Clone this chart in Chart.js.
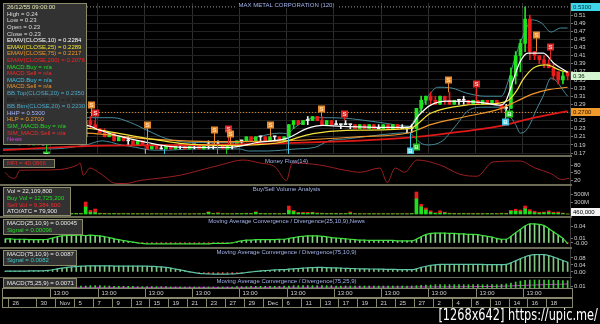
<!DOCTYPE html>
<html>
<head>
<meta charset="utf-8">
<title>MAX METAL CORPORATION (120)</title>
<script src="https://cdn.jsdelivr.net/npm/chart.js@4.4.1/dist/chart.umd.min.js"></script>
<style>
  html, body { margin: 0; padding: 0; background: #000; }
  #page { position: relative; width: 600px; height: 324px; overflow: hidden; background: #000; }
  #page canvas { position: absolute; left: 0; }
  .sep { position: absolute; left: 0; width: 572px; height: 2px; background: #6c6c56; }
  #stamp { position: absolute; right: 2px; top: 306px; color: #fff; font: 15px "Liberation Sans Narrow", "DejaVu Sans Condensed", sans-serif; white-space: nowrap; transform: scaleX(0.84); transform-origin: right top; }
</style>
</head>
<body>
<div id="page">
  <canvas id="main" width="600" height="155" style="top:0"></canvas>
  <div class="sep" style="top:155px"></div>
  <canvas id="mfi" width="600" height="27" style="top:157px"></canvas>
  <div class="sep" style="top:184px"></div>
  <canvas id="vol" width="600" height="30" style="top:186px"></canvas>
  <div class="sep" style="top:216px"></div>
  <canvas id="macd1" width="600" height="29" style="top:218px"></canvas>
  <div class="sep" style="top:247px"></div>
  <canvas id="macd2" width="600" height="28" style="top:249px"></canvas>
  <div class="sep" style="top:277px; height:1px"></div>
  <canvas id="macd3" width="600" height="10" style="top:278px"></canvas>
  <canvas id="axis" width="600" height="20" style="top:288px"></canvas>
  <div id="stamp">[1268x642] https://upic.me/</div>
</div>
<script>
// 120-minute bars, two per trading day, 26 Oct - 18 Jan
var barCount = 120;
var priceTicks = [0.17, 0.19, 0.21, 0.23, 0.25, 0.27, 0.29, 0.31, 0.33, 0.35, 0.37, 0.39, 0.41, 0.43, 0.45, 0.47, 0.49, 0.51];
var hourTicks = [10, 20, 30, 40, 50, 60, 70, 80, 90, 100, 110];
var hourLabels = ['13:00', '13:00', '13:00', '13:00', '13:00', '13:00', '13:00', '13:00', '13:00', '13:00', '13:00'];
var dayBreaks = [1, 7, 11, 15, 19, 23, 27, 31, 35, 39, 43, 47, 51, 55, 59, 63, 67, 71, 75, 79, 83, 87, 91, 95, 99, 103, 107, 111, 115];
var dayLabels = ['26', '30', 'Nov', '5', '7', '9', '13', '15', '19', '21', '23', '27', '29', 'Dec', '6', '11', '13', '17', '19', '21', '25', '27', '2', '4', '8', '10', '14', '16', '18'];

var opens = [.21,.20,.21,.20,.20,.20,.19,.20,.19,.19, .20,.21,.21,.22,.21,.22,.22,.21,.25,.24,
             .23,.22,.21,.22,.20,.21,.20,.20,.19,.20, .19,.18,.19,.18,.18,.19,.18,.19,.19,.18,
             .19,.19,.18,.19,.19,.19,.19,.18,.19,.19, .20,.20,.21,.20,.21,.21,.20,.21,.21,.20,
             .21,.24,.25,.24,.25,.25,.26,.25,.24,.25, .24,.24,.24,.24,.24,.23,.24,.23,.24,.23,
             .23,.24,.23,.24,.23,.23,.23,.23,.28,.30, .31,.30,.29,.31,.30,.29,.30,.30,.30,.29,
             .30,.29,.30,.29,.30,.29,.28,.28,.36,.41, .44,.50,.42,.41,.40,.39,.38,.37,.35,.37];
var highs = [.21,.21,.21,.20,.21,.20,.20,.20,.20,.20, .21,.21,.22,.22,.22,.22,.22,.25,.26,.25,
             .23,.23,.22,.22,.21,.21,.21,.20,.20,.20, .19,.19,.19,.19,.19,.19,.19,.19,.19,.19,
             .19,.19,.19,.20,.19,.20,.19,.19,.19,.20, .20,.21,.21,.21,.21,.21,.21,.21,.21,.21,
             .24,.25,.25,.25,.26,.26,.26,.26,.25,.25, .25,.24,.25,.24,.24,.24,.24,.24,.24,.24,
             .24,.24,.24,.24,.24,.23,.24,.28,.31,.31, .32,.31,.31,.31,.32,.30,.30,.31,.30,.30,
             .30,.30,.30,.30,.30,.29,.29,.38,.42,.45, .53,.51,.42,.41,.41,.40,.39,.37,.37,.37];
var lows = [.20,.20,.20,.19,.20,.19,.19,.19,.19,.19, .20,.20,.21,.21,.21,.21,.21,.21,.23,.23,
            .22,.21,.21,.20,.20,.20,.19,.19,.19,.19, .18,.18,.18,.18,.18,.18,.18,.18,.18,.18,
            .18,.18,.18,.18,.18,.19,.18,.18,.18,.19, .19,.20,.20,.20,.20,.20,.20,.20,.20,.20,
            .21,.23,.24,.24,.24,.25,.25,.24,.24,.24, .24,.23,.24,.23,.23,.23,.23,.23,.23,.23,
            .23,.23,.23,.23,.23,.22,.22,.23,.27,.29, .29,.29,.29,.29,.29,.29,.29,.29,.29,.29,
            .29,.29,.29,.29,.29,.27,.27,.28,.34,.37, .42,.40,.40,.39,.38,.38,.35,.34,.34,.35];
var closes = [.20,.21,.20,.20,.20,.19,.20,.19,.19,.20, .21,.21,.22,.21,.22,.22,.21,.25,.24,.23,
              .22,.21,.22,.20,.21,.20,.20,.19,.20,.19, .18,.19,.18,.18,.19,.18,.19,.19,.18,.19,
              .19,.18,.19,.19,.19,.19,.18,.19,.19,.20, .20,.21,.20,.21,.21,.20,.21,.21,.20,.21,
              .24,.25,.24,.25,.25,.26,.25,.24,.25,.24, .24,.24,.24,.24,.23,.24,.23,.24,.23,.23,
              .24,.23,.24,.23,.23,.23,.23,.28,.30,.31, .30,.29,.31,.30,.29,.30,.30,.30,.29,.30,
              .29,.30,.29,.30,.29,.28,.28,.36,.41,.44, .50,.42,.41,.40,.39,.38,.36,.35,.36,.36];

// volume in millions of shares
var buyVol = [8,5,6,4,7,5,3,6,4,10, 12,8,15,10,9,12,10,175,40,35,
              10,8,6,9,5,7,6,5,4,6, 5,4,6,3,5,4,3,5,4,3,
              4,6,5,40,8,12,5,6,4,10, 8,12,9,40,10,8,6,7,5,9,
              90,60,25,20,15,30,12,10,8,9, 10,6,8,20,6,5,4,6,5,4,
              5,4,6,4,5,4,8,380,180,100, 40,15,20,25,10,8,6,9,7,5,
              6,5,8,6,5,10,8,70,70,60, 130,60,30,20,30,40,20,20,10,0.26];
var sellVol = [4,6,5,6,3,6,5,4,6,4, 6,5,8,6,8,6,8,125,50,90,
               12,10,8,6,8,5,6,5,6,4, 6,5,4,6,4,5,4,3,5,4,
               5,4,6,15,10,20,8,5,6,5, 6,8,6,15,6,8,5,6,8,5,
               110,30,15,20,25,15,15,12,8,10, 8,10,6,30,6,6,5,4,6,5,
               4,6,5,5,4,6,10,170,60,50, 40,15,60,20,12,10,8,6,8,10,
               10,8,6,8,6,12,10,20,50,40, 70,50,40,25,20,40,25,30,15,0.2];

// indicator lines: [bar, value]
var ema10 = [[0,.205],[5,.198],[10,.196],[15,.212],[17.6,.238],[20.5,.226],[25.4,.209],[30.5,.196],[34.7,.187],[40,.184],[48,.184],[53.8,.196],[60,.206],[64.3,.23],[67.7,.238],[73,.235],[80,.233],[86,.234],[88,.263],[90.5,.288],[94,.298],[101,.295],[105.3,.288],[106.5,.30],[108,.35],[109.4,.394],[111.1,.416],[114.3,.416],[116.7,.39],[119.5,.369]];
var ema25 = [[0,.215],[10,.207],[17.6,.231],[23.3,.221],[30.5,.206],[37.5,.194],[48,.189],[58.6,.196],[65.6,.218],[72.8,.226],[86,.23],[90.5,.268],[98,.288],[105,.293],[107,.30],[108.8,.325],[110,.35],[112.2,.379],[115,.387],[117.9,.374],[119.5,.369]];
var ema75 = [[0,.222],[10,.22],[17.6,.219],[30.5,.205],[48,.198],[60,.2],[75,.21],[86,.22],[90.5,.24],[98,.26],[105,.278],[108.8,.298],[112,.315],[115.5,.326],[119.5,.332]];
var ema200 = [[0,.177],[17.6,.187],[48,.191],[86,.208],[98,.224],[105,.236],[112,.256],[119.5,.273]];
var bbTop = [[0,.24],[10,.235],[17.6,.257],[23.3,.257],[27,.245],[30.5,.226],[34.7,.205],[40,.196],[50,.196],[54,.21],[58.6,.219],[60,.218],[62,.235],[65,.255],[67.7,.257],[72,.256],[80,.245],[86,.236],[87,.25],[90,.31],[92,.332],[95,.33],[98,.318],[102,.31],[105.5,.31],[107,.35],[108.5,.41],[110.3,.465],[112,.498],[114,.49],[116,.468],[118,.478],[119.5,.478]];
var bbBtm = [[0,.18],[10,.18],[17.6,.19],[21,.2],[25,.19],[28,.184],[32,.177],[35,.177],[40,.18],[50,.18],[52,.175],[56,.175],[59,.177],[62,.18],[66,.184],[69,.2],[73,.205],[80,.215],[86,.22],[87,.21],[88.5,.194],[90,.19],[93,.2],[96,.24],[98.5,.275],[102,.283],[105.5,.283],[107,.265],[108.5,.24],[109.5,.219],[111,.23],[113,.28],[114.3,.31],[116,.355],[119.5,.31]];
var hhp = 0.53;
var hlp = 0.27;

// buy / sell signals: bar, price of the box, kind
var markerBars = [9.2, 18.6, 19.5, 30.1, 30.5, 34, 44.6, 45.3, 47.2, 47.7, 48.1, 56.5, 60.3, 67.4, 72.1, 86.1, 87.4, 94.1, 100, 106.3, 107, 112.8, 115.8];
var markerPrices = [0.166, 0.288, 0.269, 0.158, 0.238, 0.158, 0.226, 0.158, 0.158, 0.228, 0.217, 0.238, 0.158, 0.279, 0.267, 0.174, 0.186, 0.35, 0.341, 0.246, 0.266, 0.461, 0.43];
var markerKinds = ['gb','os','rs','cb','os','cb','os','gb','gb','rs','os','os','cb','os','rs','cb','gb','os','rs','cb','gb','os','rs'];

var mfi = [[0.4,51],[1.5,31],[2.5,27],[3.6,59],[8,60],[12,62],[15.7,80],[16.3,88],[17,39],[18.4,68],[20.5,47],[24,6],[26,6],[29,18],[33,27],[37.5,39],[41.7,59],[46,80],[50.8,100],[54.4,88],[57.6,72],[60,18],[61.2,88],[67,80],[72.4,59],[75.6,51],[79.8,68],[81.3,10],[83,68],[85,51],[87.6,100],[92.5,80],[96.7,43],[100.3,35],[103.7,92],[109.4,96],[112.6,68],[115.8,47],[118.3,22],[119.8,27]];

var macd1 = [0.009,0.009,0.008,0.008,0.008,0.007,0.007,0.007,0.007,0.008,
             0.011,0.014,0.016,0.017,0.017,0.018,0.018,0.017,0.018,0.017,
             0.016,0.014,0.012,0.009,0.007,0.005,0.003,0.001,-0.001,-0.002,
             -0.003,-0.003,-0.003,-0.003,-0.003,-0.003,-0.003,-0.003,-0.003,-0.003,
             -0.003,-0.003,-0.003,-0.003,-0.002,-0.002,-0.002,-0.002,-0.001,0.002,
             0.004,0.006,0.006,0.007,0.007,0.007,0.007,0.007,0.008,0.008,
             0.010,0.012,0.014,0.015,0.016,0.016,0.016,0.015,0.014,0.012,
             0.011,0.010,0.009,0.008,0.007,0.006,0.006,0.005,0.005,0.005,
             0.005,0.005,0.005,0.004,0.004,0.004,0.004,0.008,0.014,0.019,
             0.022,0.023,0.023,0.023,0.022,0.022,0.021,0.021,0.020,0.020,
             0.019,0.017,0.015,0.013,0.010,0.008,0.008,0.015,0.024,0.032,
             0.040,0.045,0.045,0.044,0.041,0.034,0.026,0.018,0.010,-0.003];
var macd2 = [0.005,0.005,0.005,0.005,0.005,0.006,0.006,0.006,0.007,0.009,
             0.013,0.018,0.022,0.026,0.029,0.031,0.033,0.034,0.035,0.035,
             0.035,0.035,0.035,0.034,0.034,0.034,0.034,0.034,0.034,0.033,
             0.033,0.032,0.031,0.029,0.026,0.022,0.017,0.012,0.006,0.001,
             -0.004,-0.008,-0.010,-0.011,-0.012,-0.012,-0.012,-0.012,-0.011,-0.010,
             -0.007,-0.003,0.000,0.003,0.006,0.008,0.010,0.012,0.013,0.014,
             0.016,0.018,0.020,0.022,0.024,0.025,0.026,0.026,0.025,0.024,
             0.023,0.022,0.021,0.020,0.019,0.018,0.018,0.017,0.017,0.016,
             0.016,0.015,0.015,0.014,0.014,0.013,0.013,0.018,0.026,0.033,
             0.038,0.041,0.043,0.044,0.044,0.044,0.044,0.044,0.043,0.043,
             0.043,0.043,0.042,0.042,0.042,0.042,0.043,0.052,0.064,0.076,
             0.087,0.095,0.099,0.100,0.099,0.094,0.086,0.076,0.066,0.056];
var macd3 = [0.006,0.006,0.006,0.006,0.006,0.006,0.006,0.006,0.006,0.006,
             0.006,0.007,0.008,0.009,0.009,0.010,0.010,0.010,0.011,0.011,
             0.011,0.010,0.010,0.009,0.009,0.009,0.009,0.009,0.008,0.008,
             0.008,0.008,0.008,0.008,0.008,0.007,0.007,0.007,0.007,0.007,
             0.007,0.007,0.007,0.007,0.007,0.007,0.007,0.007,0.007,0.008,
             0.008,0.008,0.009,0.009,0.009,0.009,0.009,0.009,0.009,0.010,
             0.010,0.011,0.011,0.011,0.011,0.011,0.011,0.011,0.011,0.011,
             0.010,0.010,0.010,0.010,0.010,0.010,0.010,0.010,0.010,0.010,
             0.010,0.010,0.010,0.010,0.010,0.010,0.010,0.011,0.012,0.013,
             0.013,0.014,0.014,0.014,0.014,0.014,0.014,0.014,0.014,0.014,
             0.014,0.014,0.014,0.014,0.014,0.015,0.016,0.019,0.022,0.025,
             0.027,0.028,0.028,0.028,0.028,0.028,0.027,0.027,0.026,0.026];
var macd3Signal = [[0,0.006],[50,0.006],[86,0.007],[105,0.009],[112,0.013],[119.5,0.016]];

var mfiTicks = [80, 50, 20];
var volTicks = [500, 300];
var macd1Ticks = [0.04, 0.01, -0.001];
var macd2Ticks = [0.08, 0.04, 0];
var macd3Ticks = [0.01];

var FONT = "'Liberation Sans', Arial, sans-serif";
Chart.defaults.font.family = FONT;
Chart.defaults.font.size = 6;
Chart.defaults.color = '#d0d0d0';
Chart.defaults.animation = false;

function xScale(gridColor) {
    return {
        type: 'linear', min: 0, max: barCount, offset: false,
        afterBuildTicks: function (s) { s.ticks = hourTicks.map(function (v) { return { value: v }; }); },
        ticks: { display: false },
        grid: { display: !!gridColor, color: gridColor, drawTicks: false, offset: false },
        border: { display: false }
    };
}

function yScale(min, max, ticks, fmt, gridColor) {
    return {
        position: 'right', min: min, max: max,
        afterBuildTicks: function (s) { s.ticks = ticks.map(function (v) { return { value: v }; }); },
        afterFit: function (s) { s.width = 30; s.paddingTop = 0; s.paddingBottom = 0; },
        ticks: { callback: fmt, padding: 1, autoSkip: false, color: '#d0d0d0', font: { size: 6 } },
        grid: { color: gridColor || 'transparent', tickColor: '#777', tickLength: 3 },
        border: { color: '#3c3c3c' }
    };
}

function lineSet(points, color, width, order, dash) {
    return {
        type: 'line',
        data: points.map(function (p) { return { x: p[0], y: p[1] }; }),
        borderColor: color, borderWidth: width, borderDash: dash || [],
        pointRadius: 0, cubicInterpolationMode: 'monotone', fill: false, order: order
    };
}

function barSet(values, colors, thickness, order) {
    return {
        type: 'bar',
        data: values.map(function (v, i) { return { x: i + 0.5, y: v }; }),
        backgroundColor: colors, barThickness: thickness, grouped: false, order: order
    };
}

var infoBox = {
    id: 'infoBox',
    afterDraw: function (chart, args, o) {
        if (!o.lines) return;
        var ctx = chart.ctx;
        ctx.save();
        ctx.fillStyle = '#323232';
        ctx.fillRect(o.x, o.y, o.w, o.h);
        ctx.strokeStyle = '#8c8c6a';
        ctx.lineWidth = 1;
        ctx.strokeRect(o.x + 0.5, o.y + 0.5, o.w - 1, o.h - 1);
        ctx.font = '6px ' + FONT;
        ctx.textBaseline = 'middle';
        ctx.textAlign = 'left';
        o.lines.forEach(function (ln, i) {
            ctx.fillStyle = ln[1];
            ctx.fillText(ln[0], o.x + 4, o.y + o.first + i * o.step);
        });
        ctx.restore();
    }
};

var panelTitle = {
    id: 'panelTitle',
    afterDraw: function (chart, args, o) {
        if (!o.text) return;
        var ctx = chart.ctx, a = chart.chartArea;
        var cx = (a.left + a.right) / 2;
        ctx.save();
        ctx.font = '6px ' + FONT;
        ctx.textAlign = 'center';
        ctx.textBaseline = 'middle';
        if (o.bg) {
            var w = ctx.measureText(o.text).width;
            ctx.fillStyle = o.bg;
            ctx.fillRect(cx - w / 2 - 3, o.y - 3, w + 6, 6);
        }
        ctx.fillStyle = '#a4b4ec';
        ctx.fillText(o.text, cx, o.y);
        ctx.restore();
    }
};

var markerStyle = {
    os: { fill: '#e98a2c', text: '#ffe2b8', letter: 'S' },
    rs: { fill: '#e02626', text: '#ffd4d4', letter: 'S' },
    cb: { fill: '#3ec8e6', text: '#e8ffff', letter: 'B' },
    gb: { fill: '#23c423', text: '#d8ffd8', letter: 'B' }
};

var signals = {
    id: 'signals',
    afterDatasetsDraw: function (chart) {
        var ctx = chart.ctx, a = chart.chartArea, x = chart.scales.x, y = chart.scales.y;
        ctx.save();
        ctx.beginPath();
        ctx.rect(a.left, a.top, a.right - a.left, a.bottom - a.top);
        ctx.clip();
        ctx.font = 'bold 6px ' + FONT;
        ctx.textAlign = 'center';
        ctx.textBaseline = 'middle';
        markerBars.forEach(function (b, k) {
            var st = markerStyle[markerKinds[k]];
            var px = Math.round(x.getPixelForValue(b));
            var py = Math.round(y.getPixelForValue(markerPrices[k]));
            var idx = Math.min(barCount - 1, Math.floor(b));
            var sell = st.letter === 'S';
            var target = y.getPixelForValue(sell ? highs[idx] : lows[idx]);
            ctx.strokeStyle = st.fill;
            ctx.lineWidth = 1;
            ctx.beginPath();
            ctx.moveTo(px + 0.5, sell ? py + 3 : py - 3);
            ctx.lineTo(px + 0.5, target);
            ctx.stroke();
            ctx.fillStyle = st.fill;
            ctx.fillRect(px - 3, py - 3.5, 7, 7);
            ctx.fillStyle = st.text;
            ctx.fillText(st.letter, px + 0.5, py + 0.5);
        });
        ctx.restore();
    }
};

function drawTag(chart, value, text, bg, fg) {
    var ctx = chart.ctx, a = chart.chartArea;
    var py = Math.min(Math.round(chart.scales.y.getPixelForValue(value)), chart.height - 4);
    ctx.fillStyle = bg;
    ctx.fillRect(a.right + 1, py - 4, 29, 8);
    ctx.fillStyle = fg;
    ctx.fillText(text, a.right + 3, py + 0.5);
}

var priceTags = {
    id: 'priceTags',
    afterDraw: function (chart) {
        var ctx = chart.ctx;
        ctx.save();
        ctx.font = '6px ' + FONT;
        ctx.textBaseline = 'middle';
        ctx.textAlign = 'left';
        var last = closes[barCount - 1];
        drawTag(chart, hhp, hhp.toFixed(4), '#3fd6ea', '#00303c');
        drawTag(chart, last, last.toFixed(2), '#d4f5d0', '#102010');
        drawTag(chart, hlp, hlp.toFixed(4), '#f09a2a', '#2a1400');
        ctx.restore();
    }
};

var volTag = {
    id: 'volTag',
    afterDraw: function (chart) {
        var ctx = chart.ctx;
        var last = buyVol[barCount - 1] + sellVol[barCount - 1];
        ctx.save();
        ctx.font = '6px ' + FONT;
        ctx.textBaseline = 'middle';
        ctx.textAlign = 'left';
        drawTag(chart, last, Math.round(last * 1e6).toLocaleString('en-US'), '#f4f4f4', '#000');
        ctx.restore();
    }
};

var axisRows = {
    id: 'axisRows',
    afterDraw: function (chart) {
        var ctx = chart.ctx, x = chart.scales.x;
        var l = x.left - 0.5, r = x.right + 2.5;
        ctx.save();
        ctx.strokeStyle = '#86866c';
        ctx.lineWidth = 1;
        ctx.strokeRect(l, 0.5, r - l, 9);
        ctx.strokeRect(l, 10.5, r - l, 9);
        ctx.font = '6px ' + FONT;
        ctx.fillStyle = '#cfcfcf';
        ctx.textBaseline = 'middle';
        ctx.textAlign = 'left';
        hourTicks.forEach(function (b, i) {
            var px = Math.round(x.getPixelForValue(b)) + 0.5;
            ctx.beginPath(); ctx.moveTo(px, 0.5); ctx.lineTo(px, 9.5); ctx.stroke();
            ctx.fillText(hourLabels[i], px + 3, 5.5);
        });
        dayBreaks.forEach(function (b, i) {
            var px = Math.round(x.getPixelForValue(b)) + 0.5;
            ctx.beginPath(); ctx.moveTo(px, 10.5); ctx.lineTo(px, 19.5); ctx.stroke();
            ctx.fillText(dayLabels[i], px + 4, 15.5);
        });
        ctx.restore();
    }
};

function candleColor(i) {
    if (closes[i] > opens[i]) return '#1fe41f';
    if (closes[i] < opens[i]) return '#ec1c1c';
    return '#f2f2f2';
}
var candleColors = closes.map(function (c, i) { return candleColor(i); });

function baseOptions(scales, padding, plugins) {
    plugins.legend = { display: false };
    plugins.tooltip = { enabled: false };
    return {
        responsive: false, animation: false, events: [],
        layout: { padding: padding },
        scales: scales,
        plugins: plugins
    };
}

// main price panel
new Chart(document.getElementById('main'), {
    type: 'bar',
    data: {
        datasets: [
            lineSet(ema10, '#ffffff', 1.2, 0),
            lineSet(ema25, '#f2e23a', 1.2, 1),
            lineSet(ema75, '#f0952a', 1.2, 2),
            lineSet(ema200, '#e01818', 1.8, 3),
            {
                type: 'bar',
                data: opens.map(function (o, i) { return { x: i + 0.5, y: [o, closes[i]] }; }),
                backgroundColor: candleColors, barThickness: 3, minBarLength: 1, grouped: false, order: 4
            },
            {
                type: 'bar',
                data: lows.map(function (lo, i) { return { x: i + 0.5, y: [lo, highs[i]] }; }),
                backgroundColor: candleColors, barThickness: 1, grouped: false, order: 5
            },
            lineSet(bbTop, '#468c9c', 1, 6),
            lineSet(bbBtm, '#468c9c', 1, 6),
            lineSet([[0, hhp], [barCount, hhp]], '#9a9a9a', 1, 7, [1, 2]),
            lineSet([[0, hlp], [barCount, hlp]], '#e08a28', 1, 7, [1, 2])
        ]
    },
    options: baseOptions({
        x: xScale('#2e2e2e'),
        y: yScale(0.1676, 0.5396, priceTicks, function (v) { return v.toFixed(2); }, '#232323')
    }, { top: 3, bottom: 1, left: 3, right: 0 }, {
        panelTitle: { text: 'MAX METAL CORPORATION (120)', y: 5, bg: '#000' },
        infoBox: {
            x: 3, y: 3, w: 84, h: 142, first: 4.5, step: 6.6,
            lines: [
                ['26/12/55 09:00:00', '#e6e6b4'],
                ['High = 0.24', '#dcdcdc'],
                ['Low = 0.23', '#dcdcdc'],
                ['Open = 0.23', '#dcdcdc'],
                ['Close = 0.23', '#dcdcdc'],
                ['EMAV(CLOSE,10) = 0.2284', '#ffffff'],
                ['EMAV(CLOSE,25) = 0.2289', '#f2e23a'],
                ['EMAV(CLOSE,75) = 0.2217', '#f0952a'],
                ['EMAV(CLOSE,200) = 0.2076', '#ff2020'],
                ['MACD.Buy = n/a', '#22dd22'],
                ['MACD.Sell = n/a', '#ff2828'],
                ['MACD.Buy = n/a', '#3cc8e8'],
                ['MACD.Sell = n/a', '#f0952a'],
                ['BB.Top(CLOSE,20) = 0.2350', '#4aa8c8'],
                ['BB.Avg(CLOSE,20) = 0.2290', '#1c1c1c'],
                ['BB.Btm(CLOSE,20) = 0.2230', '#4aa8c8'],
                ['HHP = 0.5300', '#a6b4ff'],
                ['HLP = 0.2700', '#f0952a'],
                ['SIM_MACD.Buy = n/a', '#22dd22'],
                ['SIM_MACD.Sell = n/a', '#ff2828'],
                ['News', '#d040d0']
            ]
        }
    }),
    plugins: [signals, panelTitle, infoBox, priceTags]
});

// money flow
new Chart(document.getElementById('mfi'), {
    type: 'line',
    data: { datasets: [lineSet(mfi, '#9a1e1e', 1, 0)] },
    options: baseOptions({
        x: xScale(null),
        y: yScale(4, 108, mfiTicks, function (v) { return String(v); })
    }, { top: 1, bottom: 0, left: 3, right: 0 }, {
        panelTitle: { text: 'Money Flow(14)', y: 4 },
        infoBox: { x: 3, y: 2, w: 52, h: 9, first: 4.6, step: 6.6, lines: [['MFI = 40.0866', '#e02a2a']] }
    }),
    plugins: [panelTitle, infoBox]
});

// buy / sell volume
new Chart(document.getElementById('vol'), {
    type: 'bar',
    data: {
        datasets: [
            { data: buyVol.map(function (v, i) { return { x: i + 0.5, y: v }; }), backgroundColor: '#1fe01f', barThickness: 3, stack: 'v' },
            { data: sellVol.map(function (v, i) { return { x: i + 0.5, y: v }; }), backgroundColor: '#ea1c1c', barThickness: 3, stack: 'v' }
        ]
    },
    options: baseOptions({
        x: Object.assign(xScale(null), { stacked: true }),
        y: Object.assign(yScale(-50, 700, volTicks, function (v) { return v + 'M'; }), { stacked: true })
    }, { top: 0, bottom: 0, left: 3, right: 0 }, {
        panelTitle: { text: 'Buy/Sell Volume Analysis', y: 3 },
        infoBox: {
            x: 3, y: 1, w: 68, h: 29, first: 4.7, step: 6.6,
            lines: [
                ['Vol = 22,109,800', '#e6e6e6'],
                ['Buy Vol = 12,725,200', '#22dd22'],
                ['Sell Vol = 9,384,600', '#ff2828'],
                ['ATO/ATC = 79,900', '#e6e6e6']
            ]
        }
    }),
    plugins: [panelTitle, infoBox, volTag]
});

function histColors(values, up, down) {
    return values.map(function (v) { return v >= 0 ? up : down; });
}

function macdChart(id, values, lineColor, histUp, range, ticks, fmt, title, box, extra) {
    var sets = [
        lineSet(values.map(function (v, i) { return [i + 0.5, v]; }), lineColor, 1.2, 0),
        barSet(values, histColors(values, histUp, '#e23a3a'), 1, 1)
    ];
    if (extra) sets.push(extra);
    new Chart(document.getElementById(id), {
        type: 'bar',
        data: { datasets: sets },
        options: baseOptions({
            x: xScale(null),
            y: yScale(range[0], range[1], ticks, fmt)
        }, { top: 0, bottom: 0, left: 3, right: 0 }, {
            panelTitle: { text: title, y: 3 },
            infoBox: box
        }),
        plugins: [panelTitle, infoBox]
    });
}

macdChart('macd1', macd1, '#3ee03e', 'rgba(150,235,150,0.9)', [-0.0108, 0.0594], macd1Ticks,
    function (v) { return v.toFixed(2); },
    'Moving Average Convergence / Divergence(25,10,9),News',
    { x: 3, y: 1, w: 80, h: 16, first: 4.5, step: 6.6,
      lines: [['MACD(25,10,9) = 0.00045', '#e6e6e6'], ['Signal = 0.00096', '#22dd22']] });

macdChart('macd2', macd2, '#5cc4a4', 'rgba(150,230,150,0.85)', [-0.0286, 0.1314], macd2Ticks,
    function (v) { return v.toFixed(2); },
    'Moving Average Convergence / Divergence(75,10,9)',
    { x: 3, y: 1, w: 74, h: 16, first: 4.2, step: 6.6,
      lines: [['MACD(75,10,9) = 0.0087', '#e6e6e6'], ['Signal = 0.0082', '#3cc8c8']] });

macdChart('macd3', macd3, 'rgba(0,0,0,0)', '#3ccf3c', [0.004, 0.034], macd3Ticks,
    function (v) { return v.toFixed(2); },
    'Moving Average Convergence / Divergence(75,25,9)',
    { x: 3, y: 0, w: 74, h: 10, first: 5, step: 6.6,
      lines: [['MACD(75,25,9) = 0.0071', '#e6e6e6']] },
    lineSet(macd3Signal, '#c030c0', 1, 2));

// time axis rows
new Chart(document.getElementById('axis'), {
    type: 'line',
    data: { datasets: [] },
    options: baseOptions({
        x: { type: 'linear', min: 0, max: barCount, display: false },
        y: { display: false }
    }, { top: 0, bottom: 0, left: 3, right: 30 }, {}),
    plugins: [axisRows]
});
</script>
</body>
</html>
